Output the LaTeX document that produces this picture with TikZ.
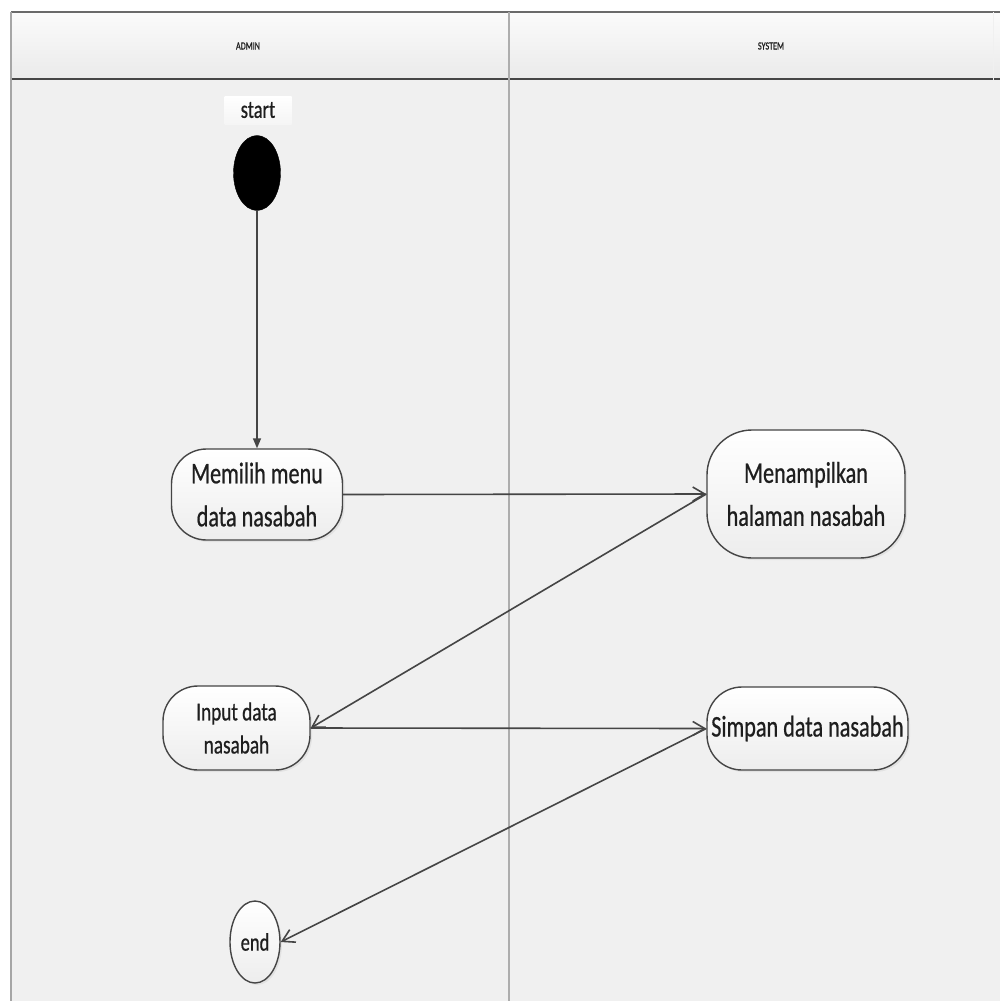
\documentclass[tikz,border=0pt]{standalone}
\usepackage{fontspec}
\setmainfont{Carlito}
\newfontfamily\lab[FakeStretch=0.74,FakeBold=0.6]{Carlito}
\usetikzlibrary{arrows.meta,shapes.geometric,shadows}
\definecolor{lanebg}{HTML}{F0F0F0}
\definecolor{headtop}{HTML}{FBFBFB}
\definecolor{headbot}{HTML}{EAEAEA}
\definecolor{edge}{HTML}{454545}
\definecolor{nodebot}{HTML}{EDEDED}
\definecolor{txt}{HTML}{1E1E1E}
\begin{document}
\begin{tikzpicture}[x=1pt,y=-1pt,
  act/.style={draw=edge,line width=1.4pt,top color=white,bottom color=nodebot,
    align=center,inner sep=0pt,text=txt,
    drop shadow={opacity=0.12,shadow xshift=2pt,shadow yshift=-2pt},
    font=\lab\fontsize{30}{43}\selectfont},
  flow/.style={draw=edge,line width=1.6pt,
    -{Straight Barb[length=12pt,width=14pt,line width=1.6pt]}},
  startflow/.style={draw=edge,line width=1.5pt,
    -{Triangle[length=10pt,width=8pt]}},
  lanetitle/.style={text=txt,font=\lab\fontsize{11}{13}\selectfont}]
\useasboundingbox (0,0) rectangle (1000,1001);
\fill[white] (0,0) rectangle (1000,1001);
% swimlane body and header
\fill[lanebg] (11,79) rectangle (1000,1001);
\shade[top color=headtop,bottom color=headbot] (11,12) rectangle (1000,79);
\draw[line width=8pt,black!6] (509,80) -- (509,1001);
\draw[line width=1.5pt,edge!80] (11,12) -- (1000,12);
\draw[line width=2pt,edge] (11,79) -- (1000,79);
\draw[line width=2.5pt,black!35] (11,12) -- (11,1001);
\draw[line width=2.5pt,black!32] (509,12) -- (509,1001);
\draw[line width=0.8pt,black!6] (993,12) -- (993,1001);
\node[lanetitle] (admin) at (248,46) {ADMIN};
\node[lanetitle] (system) at (771,46) {SYSTEM};
% start
\node[top color=white,bottom color=black!4,minimum width=67pt,minimum height=28pt,
  inner sep=0pt,text=txt,font=\lab\fontsize{25}{28}\selectfont] (startlabel) at (258,110) {start};
\node[ellipse,fill=black,draw=black,minimum width=47pt,minimum height=75pt,inner sep=0pt] (start) at (257,173) {};
% activities
\node[act,minimum width=171pt,minimum height=91pt,rounded corners=35pt] (memilih) at (257,494.5) {Memilih menu\\data nasabah};
\node[act,minimum width=198pt,minimum height=128pt,rounded corners=45pt] (menampilkan) at (806,494) {Menampilkan\\halaman nasabah};
\node[act,minimum width=147pt,minimum height=84pt,rounded corners=35pt,
  font=\lab\fontsize{26}{33}\selectfont] (input) at (236.5,728) {Input data\\nasabah};
\node[act,minimum width=201pt,minimum height=83pt,rounded corners=35pt] (simpan) at (807.5,728.5) {Simpan data nasabah};
\node[act,ellipse,minimum width=50pt,minimum height=82pt,
  font=\lab\fontsize{25}{28}\selectfont] (end) at (255,942) {end};
% control flow
\draw[startflow] (start.south) -- (memilih.north);
\draw[flow] (memilih.east) -- (menampilkan.west);
\draw[flow] (menampilkan.west) -- (input.east);
\draw[flow] (input.east) -- (simpan.west);
\draw[flow] (simpan.west) -- (end.east);
\end{tikzpicture}
\end{document}
